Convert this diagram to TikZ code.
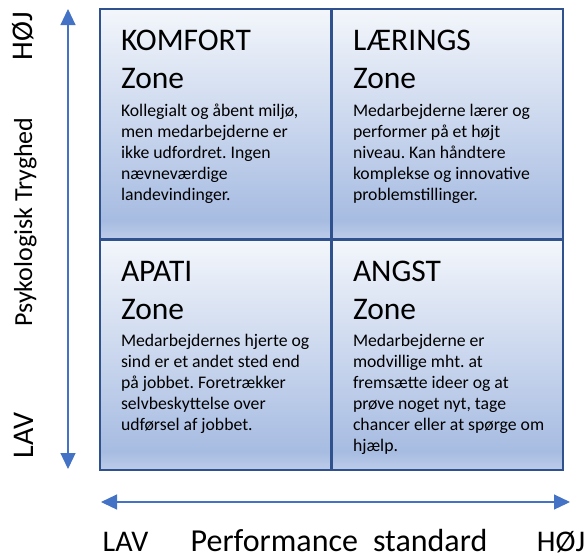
\documentclass[tikz,border=0pt]{standalone}
\usepackage{fontspec}
\setmainfont{Carlito}
\usepackage{xcolor}
\usetikzlibrary{calc}
\usetikzlibrary{arrows.meta}
\frenchspacing

\definecolor{zoneedge}{HTML}{2F528F}
\definecolor{axisblue}{HTML}{4472C4}
\definecolor{zonetop}{HTML}{F3F6FB}
\definecolor{zonedeep}{HTML}{A7BCE2}
\definecolor{zonelow}{HTML}{BDCCE9}
\pgfdeclareverticalshading{zoneshade}{100bp}{color(0bp)=(zonelow); color(25bp)=(zonelow); color(29bp)=(zonedeep); color(75bp)=(zonetop); color(100bp)=(zonetop)}

\begin{document}
\begin{tikzpicture}[x=1pt, y=-1pt]

		\tikzstyle{zone}      = [rectangle, draw=zoneedge, line width=2.4pt, shade, shading=zoneshade, minimum width=231pt, minimum height=230pt, inner sep=0pt]
		\tikzstyle{zonetitle} = [anchor=base west, align=left, inner sep=0pt, font=\fontsize{31.5}{38}\selectfont]
		\tikzstyle{zonebody}  = [anchor=base west, align=left, inner sep=0pt, font=\fontsize{17.7}{21}\selectfont]
		\tikzstyle{axis}      = [axisblue, line width=1.2pt, {Triangle[width=15pt,length=16pt]}-{Triangle[width=15pt,length=16pt]}]
		\tikzstyle{axislabel} = [anchor=base, inner sep=0pt, font=\fontsize{30}{36}\selectfont]
		\useasboundingbox (0,0) rectangle (588,558);
		%%Zones
		\node [zone](komfort) at (215.5,124) {};
		\node [zone](laerings) at ($(komfort) + (232, 0)$) {};
		\node [zone](apati) at ($(komfort) + (0, 231)$) {};
		\node [zone](angst) at ($(laerings) + (0, 231)$) {};
		%%Zone texts (anchored on the last line)
		\node [zonetitle](komforttitle) at ($(komfort.north west) + (22, 81)$) {KOMFORT\\Zone};
		\node [zonebody](komfortbody) at ($(komfort.north west) + (22, 193)$) {Kollegialt og åbent miljø,\\men medarbejderne er\\ikke udfordret. Ingen\\nævneværdige\\landevindinger.};
		\node [zonetitle](laeringstitle) at ($(laerings.north west) + (22, 81)$) {LÆRINGS\\Zone};
		\node [zonebody](laeringsbody) at ($(laerings.north west) + (22, 193)$) {Medarbejderne lærer og\\performer på et højt\\niveau. Kan håndtere\\komplekse og innovative\\problemstillinger.};
		\node [zonetitle](apatititle) at ($(apati.north west) + (22, 81)$) {APATI\\Zone};
		\node [zonebody](apatibody) at ($(apati.north west) + (22, 192)$) {Medarbejdernes hjerte og\\sind er et andet sted end\\på jobbet. Foretrækker\\selvbeskyttelse over\\udførsel af jobbet.};
		\node [zonetitle](angsttitle) at ($(angst.north west) + (22, 81)$) {ANGST\\Zone};
		\node [zonebody](angstbody) at ($(angst.north west) + (22, 213)$) {Medarbejderne er\\modvillige mht. at\\fremsætte ideer og at\\prøve noget nyt, tage\\chancer eller at spørge om\\hjælp.};
		%%Axes
		\coordinate (yhigh) at (68,9);
		\coordinate (ylow) at (68,469);
		\coordinate (xlow) at (101,502);
		\coordinate (xhigh) at (570,502);
		\draw [axis] (ylow)--(yhigh);
		\draw [axis] (xlow)--(xhigh);
		%%Axis labels
		\node [axislabel, rotate=90](yhighlabel) at (32,36.5) {HØJ};
		\node [axislabel, rotate=90, font=\fontsize{26}{31}\selectfont](ytitle) at (32,222) {Psykologisk Tryghed};
		\node [axislabel, rotate=90](ylowlabel) at (33,435.5) {LAV};
		\node [axislabel](xlowlabel) at (125.5,551) {LAV};
		\node [axislabel, font=\fontsize{32}{38}\selectfont](xtitle) at (339,551) {Performance\hspace{15pt}standard};
		\node [axislabel](xhighlabel) at (561,551) {HØJ};
	\end{tikzpicture}
\end{document}
